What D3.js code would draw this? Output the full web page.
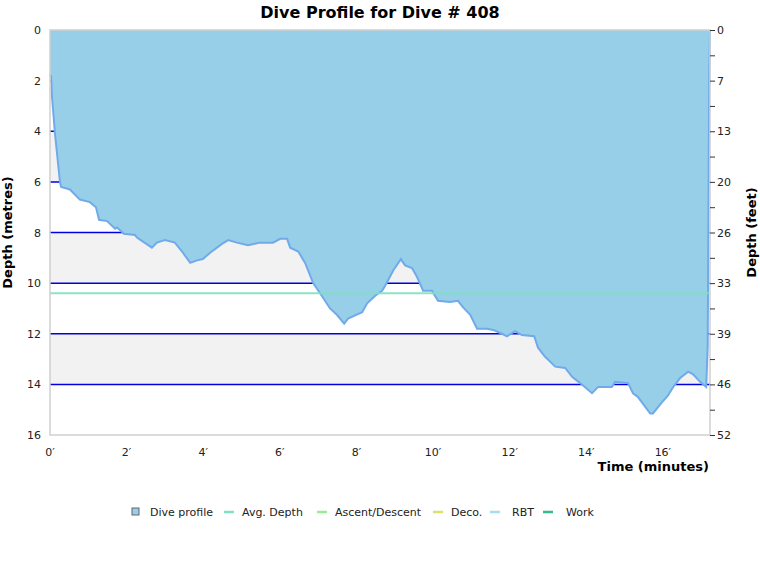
<!DOCTYPE html>
<html>
<head>
<meta charset="utf-8">
<script src="https://cdn.jsdelivr.net/npm/d3@7"></script>
<style>
  body { margin: 0; background: #fff; }
  text { font-family: "DejaVu Sans", Verdana, sans-serif; }
</style>
</head>
<body>
<div id="chart"></div>
<script>
// dive samples: minutes and metres
const times = [0, 0.03, 0.05, 0.13, 0.26, 0.29, 0.52, 0.78, 1.04, 1.20, 1.28, 1.49, 1.70, 1.75, 1.93,
  2.22, 2.27, 2.66, 2.79, 3.00, 3.26, 3.47, 3.66, 3.84, 3.99, 4.18, 4.49, 4.65, 4.88, 5.17, 5.48,
  5.82, 6.01, 6.19, 6.27, 6.48, 6.66, 6.87, 7.05, 7.31, 7.49, 7.68, 7.78, 8.15, 8.28, 8.49, 8.67,
  8.75, 8.96, 9.16, 9.27, 9.45, 9.58, 9.74, 9.97, 10.13, 10.44, 10.65, 10.78, 10.97, 11.15, 11.41,
  11.57, 11.80, 11.93, 12.14, 12.32, 12.64, 12.74, 12.92, 13.19, 13.45, 13.63, 13.84, 14.15, 14.31,
  14.49, 14.67, 14.75, 15.09, 15.22, 15.35, 15.67, 15.74, 15.98, 16.13, 16.27, 16.45, 16.66, 16.79,
  16.97, 17.13, 17.17, 17.21, 17.23];
const depths = [1.75, 1.85, 2.6, 4.1, 6.0, 6.2, 6.3, 6.7, 6.8, 7.0, 7.5, 7.55, 7.85, 7.8, 8.05,
  8.1, 8.2, 8.6, 8.4, 8.3, 8.4, 8.8, 9.2, 9.1, 9.05, 8.8, 8.45, 8.3, 8.4, 8.5, 8.4,
  8.4, 8.25, 8.25, 8.6, 8.75, 9.2, 10.0, 10.4, 11.0, 11.25, 11.6, 11.4, 11.15, 10.8, 10.5, 10.3,
  10.1, 9.5, 9.05, 9.3, 9.4, 9.75, 10.3, 10.3, 10.7, 10.75, 10.7, 10.95, 11.25, 11.8, 11.8,
  11.85, 12.0, 12.1, 11.9, 12.05, 12.1, 12.55, 12.9, 13.3, 13.35, 13.7, 13.95, 14.35, 14.1,
  14.1, 14.1, 13.9, 13.95, 14.35, 14.5, 15.15, 15.15, 14.7, 14.45, 14.1, 13.75, 13.5, 13.6,
  13.9, 14.1, 12.5, 1.8, 0];
const avgDepth = 10.4;
const metreTicks = [0, 2, 4, 6, 8, 10, 12, 14, 16];
const minuteTicks = [0, 2, 4, 6, 8, 10, 12, 14, 16];
const legendNames = ["Dive profile", "Avg. Depth", "Ascent/Descent", "Deco.", "RBT", "Work"];
const legendColors = ["#97cfe9", "#80e0c0", "#98ec98", "#dede6a", "#a6dcf4", "#33bb88"];

const W = 760, H = 580;
const margin = { left: 50, top: 30, right: 50, bottom: 145 };
const pw = W - margin.left - margin.right;
const ph = H - margin.top - margin.bottom;

const svg = d3.select("#chart").append("svg")
  .attr("width", W)
  .attr("height", H);

const x = d3.scaleLinear().domain([0, 17.23]).range([margin.left, margin.left + pw]);
const y = d3.scaleLinear().domain([0, 16]).range([margin.top, margin.top + ph]);

const samples = times.map((t, i) => ({ t: t, d: depths[i] }));

// alternating bands, gray first
const bands = d3.range(0, 16, 2);
svg.selectAll("rect.band")
  .data(bands)
  .join("rect")
  .attr("class", "band")
  .attr("x", margin.left)
  .attr("y", d => y(d))
  .attr("width", pw)
  .attr("height", d => y(d + 2) - y(d))
  .attr("fill", (d, i) => i % 2 == 0 ? "#f2f2f2" : "#ffffff");

// grid lines
svg.selectAll("line.grid")
  .data(metreTicks.slice(1, -1))
  .join("line")
  .attr("class", "grid")
  .attr("x1", margin.left).attr("x2", margin.left + pw)
  .attr("y1", d => y(d)).attr("y2", d => y(d))
  .attr("stroke", "#0000e0")
  .attr("stroke-width", 1.5);

// the profile area
const area = d3.area()
  .x(d => x(d.t))
  .y0(y(0))
  .y1(d => y(d.d));

svg.append("path")
  .datum(samples)
  .attr("d", area)
  .attr("fill", "#97cfe9");

svg.append("path")
  .datum(samples)
  .attr("d", d3.line().x(d => x(d.t)).y(d => y(d.d)))
  .attr("fill", "none")
  .attr("stroke", "#70aaea")
  .attr("stroke-width", 2);

// avg depth
svg.append("line")
  .attr("x1", margin.left).attr("x2", margin.left + pw)
  .attr("y1", y(avgDepth)).attr("y2", y(avgDepth))
  .attr("stroke", "#80e0c0")
  .attr("stroke-width", 2)
  .attr("opacity", 0.9);

// frame
svg.append("rect")
  .attr("x", margin.left).attr("y", margin.top)
  .attr("width", pw).attr("height", ph)
  .attr("fill", "none")
  .attr("stroke", "#d0d0d0")
  .attr("stroke-width", 1.5);

// left axis labels
svg.selectAll("text.ml")
  .data(metreTicks)
  .join("text")
  .attr("class", "ml")
  .attr("x", 41)
  .attr("y", d => y(d) + 4)
  .attr("text-anchor", "end")
  .attr("font-size", "11px")
  .attr("fill", "#222")
  .text(d => d);

// right axis in feet
const rightAxis = d3.axisRight(y)
  .tickValues(d3.range(0, 17, 1))
  .tickSize(5)
  .tickFormat(d => d % 2 == 0 ? Math.round(d * 3.28084) : "");
const ra = svg.append("g")
  .attr("transform", `translate(${margin.left + pw},0)`)
  .call(rightAxis);
ra.select(".domain").remove();
ra.selectAll("line").attr("stroke", "#333");
ra.selectAll("text")
  .attr("x", 7)
  .attr("font-size", "11px")
  .attr("font-family", "DejaVu Sans, Verdana, sans-serif")
  .attr("fill", "#222");

// bottom labels
svg.selectAll("text.tl")
  .data(minuteTicks)
  .join("text")
  .attr("class", "tl")
  .attr("x", d => x(d))
  .attr("y", 456)
  .attr("text-anchor", "middle")
  .attr("font-size", "11px")
  .attr("fill", "#222")
  .text(d => d + "\u2032");

svg.append("text")
  .attr("x", W / 2).attr("y", 18)
  .attr("text-anchor", "middle")
  .attr("font-size", "16px")
  .attr("font-weight", "bold")
  .text("Dive Profile for Dive # 408");

svg.append("text")
  .attr("x", 709).attr("y", 471)
  .attr("text-anchor", "end")
  .attr("font-size", "13px")
  .attr("font-weight", "bold")
  .text("Time (minutes)");

svg.append("text")
  .attr("transform", `translate(12,${y(8)}) rotate(-90)`)
  .attr("text-anchor", "middle")
  .attr("font-size", "13px")
  .attr("font-weight", "bold")
  .text("Depth (metres)");

svg.append("text")
  .attr("transform", `translate(756,${y(8)}) rotate(-90)`)
  .attr("text-anchor", "middle")
  .attr("font-size", "13px")
  .attr("font-weight", "bold")
  .text("Depth (feet)");

// legend
const legendKeyX = [132, 224, 317, 433, 490, 543];
const legendTextX = [150, 242, 335, 451, 512, 566];
const lg = svg.selectAll("g.legend")
  .data(legendNames)
  .join("g")
  .attr("class", "legend");

lg.each(function (d, i) {
  const g = d3.select(this);
  if (i == 0) {
    g.append("rect")
      .attr("x", legendKeyX[i]).attr("y", 508)
      .attr("width", 7).attr("height", 7)
      .attr("fill", legendColors[i])
      .attr("stroke", "#666");
  } else {
    g.append("line")
      .attr("x1", legendKeyX[i]).attr("x2", legendKeyX[i] + 10)
      .attr("y1", 512).attr("y2", 512)
      .attr("stroke", legendColors[i])
      .attr("stroke-width", 2.5);
  }
  g.append("text")
    .attr("x", legendTextX[i]).attr("y", 516)
    .attr("font-size", "11px")
    .attr("fill", "#222")
    .text(d);
});
</script>
</body>
</html>
